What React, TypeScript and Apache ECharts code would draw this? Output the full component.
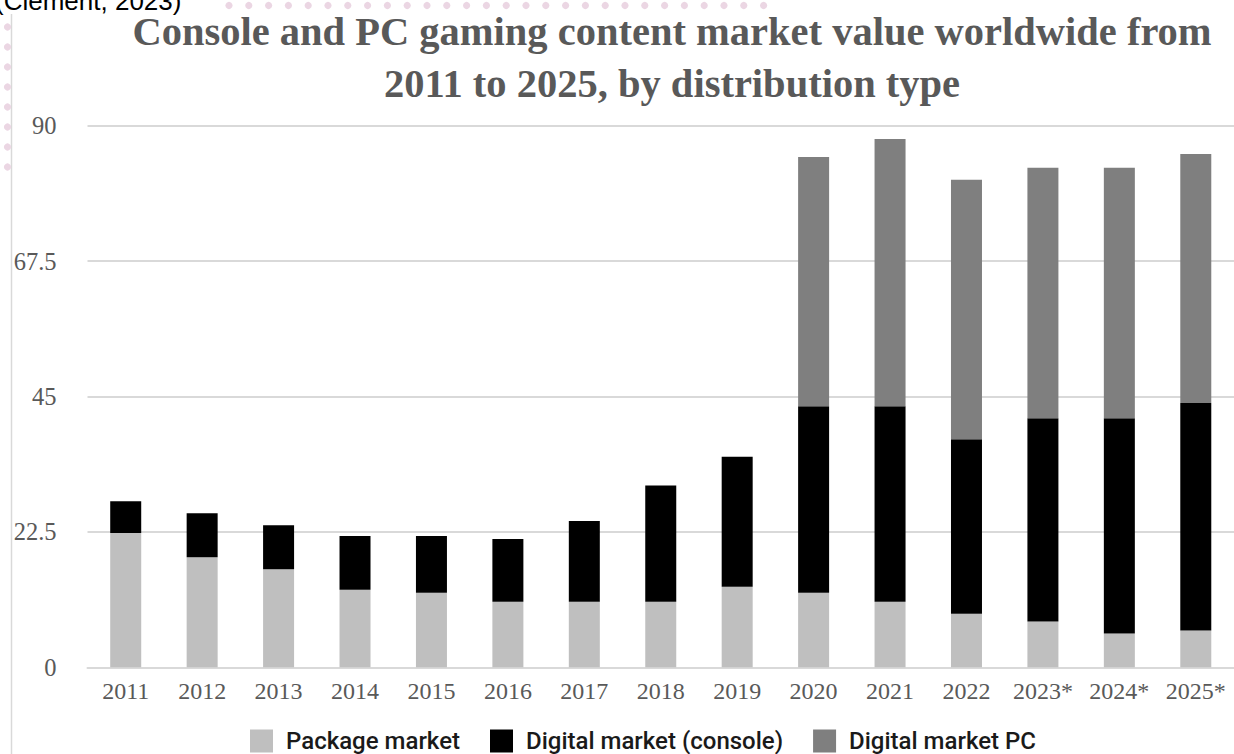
import React, { useEffect, useRef } from "react";
import * as echarts from "echarts";

// Market value in billion U.S. dollars
const years = ["2011", "2012", "2013", "2014", "2015", "2016", "2017", "2018", "2019", "2020", "2021", "2022", "2023*", "2024*", "2025*"];
const packageMarket = [22.3, 18.3, 16.3, 12.9, 12.4, 10.9, 10.9, 10.9, 13.4, 12.4, 10.9, 8.9, 7.6, 5.6, 6.1];
const digitalConsole = [5.3, 7.3, 7.3, 8.9, 9.4, 10.4, 13.4, 19.3, 21.6, 31.0, 32.5, 29.0, 33.8, 35.8, 37.8];
const digitalPC = [0, 0, 0, 0, 0, 0, 0, 0, 0, 41.4, 44.4, 43.1, 41.6, 41.6, 41.4];
const yTicks = { min: 0, max: 90, interval: 22.5 };

const titleText = "Console and PC gaming content market value worldwide from\n2011 to 2025, by distribution type";
const sourceNote = "(Clement, 2023)";

const SERIF = '"Liberation Serif", "Times New Roman", serif';

function buildDecorations() {
  const els: any[] = [];
  // thin rule on the left edge of the page
  els.push({
    type: "line",
    shape: { x1: 11.5, y1: 14, x2: 11.5, y2: 754 },
    style: { stroke: "#d9d9d9", lineWidth: 1.5 },
    silent: true,
  });
  // dotted accents
  for (let i = 0; i < 28; i++) {
    els.push({
      type: "circle",
      shape: { cx: 229 + i * 19.8, cy: 5.5, r: 3.6 },
      style: { fill: "#ebd6e3" },
      silent: true,
    });
  }
  for (let i = 0; i < 8; i++) {
    els.push({
      type: "circle",
      shape: { cx: 7.5, cy: 27 + i * 20, r: 3.6 },
      style: { fill: "#ebd6e3" },
      silent: true,
    });
  }
  els.push({
    type: "text",
    x: -5,
    y: 13.5,
    style: {
      text: sourceNote,
      font: '26px "Liberation Sans", Arial, sans-serif',
      fill: "#000000",
      textVerticalAlign: "bottom",
    },
    silent: true,
  });
  return els;
}

export default function App() {
  const ref = useRef<HTMLDivElement>(null);

  useEffect(() => {
    if (!ref.current) return;
    const chart = echarts.init(ref.current, undefined, { renderer: "svg" });
    const barWidth = 31;
    chart.setOption({
      animation: false,
      backgroundColor: "#ffffff",
      title: {
        text: titleText,
        left: 672,
        top: 5,
        padding: 0,
        textAlign: "center",
        textStyle: {
          fontFamily: SERIF,
          fontWeight: "bold",
          fontSize: 40.5,
          lineHeight: 52,
          color: "#595959",
        },
      },
      legend: {
        left: 250,
        top: 729,
        padding: 0,
        itemWidth: 23,
        itemHeight: 23,
        itemGap: 30,
        icon: "rect",
        data: ["Package market", "Digital market (console)", "Digital market PC"],
        textStyle: {
          fontFamily: "Roboto, sans-serif",
          fontSize: 24,
          fontWeight: 500,
          color: "#1a1a1a",
          padding: [0, 0, 0, 8],
        },
      },
      grid: {
        left: 87.5,
        top: 125.7,
        width: 1155,
        height: 541.6,
        containLabel: false,
      },
      xAxis: {
        type: "category",
        data: years,
        axisLine: { show: true, lineStyle: { color: "#d9d9d9", width: 2 } },
        axisTick: { show: false },
        axisLabel: {
          fontFamily: SERIF,
          fontSize: 24,
          color: "#595959",
          margin: 12,
          interval: 0,
        },
      },
      yAxis: {
        type: "value",
        min: yTicks.min,
        max: yTicks.max,
        interval: yTicks.interval,
        axisLine: { show: false },
        axisTick: { show: false },
        splitLine: { lineStyle: { color: "#d9d9d9", width: 2 } },
        axisLabel: {
          fontFamily: SERIF,
          fontSize: 24.5,
          color: "#595959",
          margin: 31,
        },
      },
      series: [
        {
          name: "Package market",
          type: "bar",
          stack: "total",
          barWidth,
          data: packageMarket,
          itemStyle: { color: "#bfbfbf" },
        },
        {
          name: "Digital market (console)",
          type: "bar",
          stack: "total",
          barWidth,
          data: digitalConsole,
          itemStyle: { color: "#000000" },
        },
        {
          name: "Digital market PC",
          type: "bar",
          stack: "total",
          barWidth,
          data: digitalPC,
          itemStyle: { color: "#7f7f7f" },
        },
      ],
      graphic: buildDecorations(),
    });
    return () => chart.dispose();
  }, []);

  return (
    <div
      ref={ref}
      style={{ position: "fixed", left: 0, top: 0, width: 1234, height: 754 }}
    />
  );
}
